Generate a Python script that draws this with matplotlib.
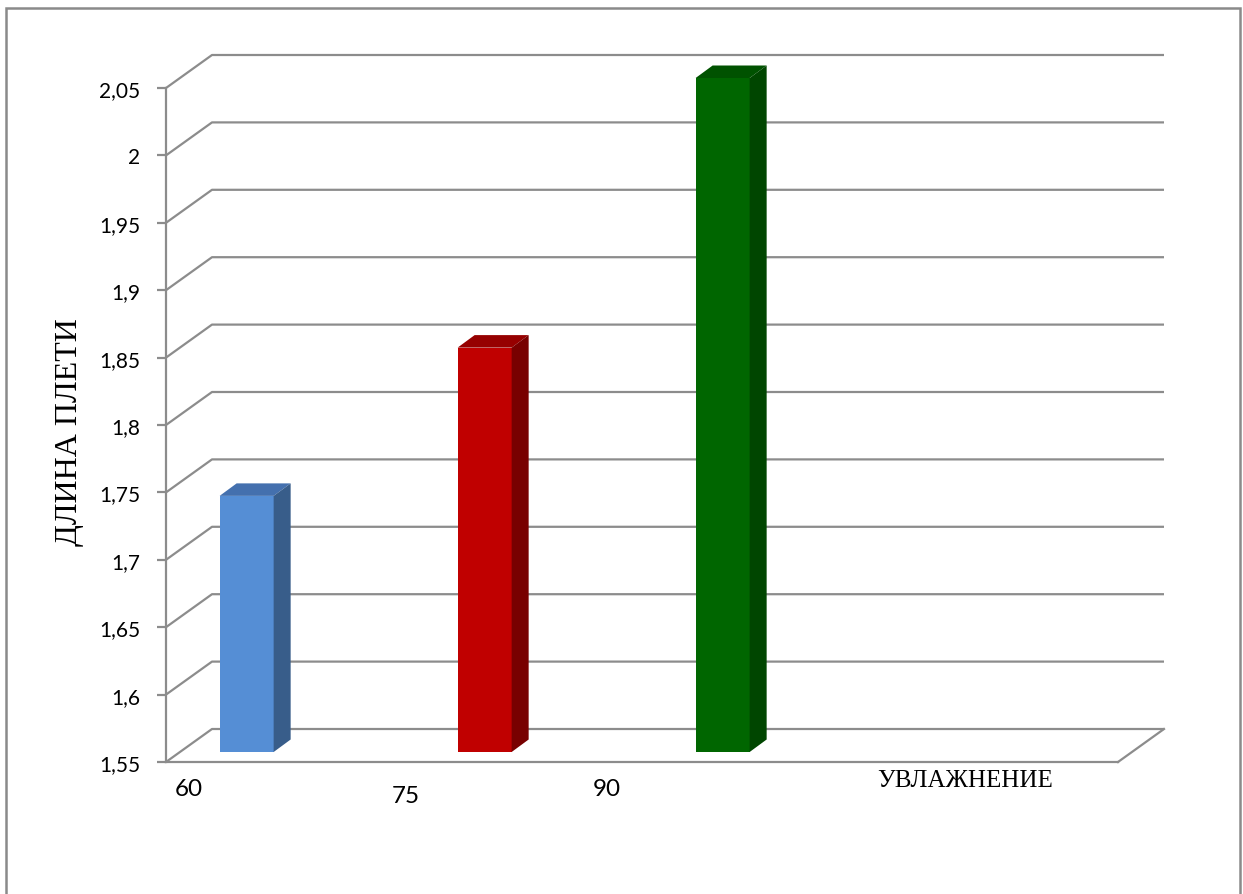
import numpy as np
import matplotlib.pyplot as plt
from matplotlib.patches import Polygon, Rectangle

# данные: длина плети при разном увлажнении
categories = ['60', '75', '90']
values = [1.74, 1.85, 2.05]
y_ticks = [1.55, 1.6, 1.65, 1.7, 1.75, 1.8, 1.85, 1.9, 1.95, 2.0, 2.05]
y_ticklabels = ['1,55', '1,6', '1,65', '1,7', '1,75', '1,8', '1,85', '1,9', '1,95', '2', '2,05']
x_title = 'УВЛАЖНЕНИЕ'
y_title = 'ДЛИНА ПЛЕТИ'

face_colors = ['#558ED5', '#C00000', '#006600']
top_colors = ['#4470AE', '#960000', '#005200']
side_colors = ['#385D8A', '#780000', '#004600']

W, H = 1243, 895
grid_c = '#8c8c8c'
lw = 1.6

# положение передней плоскости в пикселях
L, R, T, B = 166, 1118, 89, 763
ymin, ymax = 1.55, 2.05
n_slots = 4

fig = plt.figure(figsize=(W / 100, H / 100), dpi=100)
ax = fig.add_axes([L / W, (H - B) / H, (R - L) / W, (B - T) / H])
ax.set_xlim(0, n_slots)
ax.set_ylim(ymin, ymax)

sx = n_slots / (R - L)
sy = (ymax - ymin) / (B - T)


def off(dx, dy):
    return dx * sx, dy * sy


# глубина "стены" и столбцов
wdx, wdy = off(46, 33)
f1x, f1y = off(14, 10)
f2x, f2y = off(31, 22.5)

# сетка на задней стене + диагонали на боковой стене
for t in y_ticks:
    ax.plot([0, wdx, n_slots + wdx], [t, t + wdy, t + wdy],
            color=grid_c, lw=lw, clip_on=False, zorder=1, solid_capstyle='butt')
ax.plot([n_slots, n_slots + wdx], [ymin, ymin + wdy],
        color=grid_c, lw=lw, clip_on=False, zorder=1)

# столбцы
bw = 0.227
pos = np.arange(len(values)) + 0.28
for i, v in enumerate(values):
    x0 = pos[i] - bw / 2
    x1 = pos[i] + bw / 2
    ax.bar(pos[i] + f1x, v - ymin, bottom=ymin + f1y, width=bw,
           color=face_colors[i], clip_on=False, zorder=3, linewidth=0)
    top = Polygon([(x0 + f1x, v + f1y), (x1 + f1x, v + f1y),
                   (x1 + f2x, v + f2y), (x0 + f2x, v + f2y)],
                  closed=True, fc=top_colors[i], ec='none', clip_on=False, zorder=3)
    side = Polygon([(x1 + f1x, ymin + f1y), (x1 + f2x, ymin + f2y),
                    (x1 + f2x, v + f2y), (x1 + f1x, v + f1y)],
                   closed=True, fc=side_colors[i], ec='none', clip_on=False, zorder=3)
    ax.add_patch(top)
    ax.add_patch(side)

for s in ['top', 'right']:
    ax.spines[s].set_visible(False)
for s in ['left', 'bottom']:
    ax.spines[s].set_color(grid_c)
    ax.spines[s].set_linewidth(lw)
    ax.spines[s].set_zorder(2)

ax.set_yticks(y_ticks)
ax.set_yticklabels(y_ticklabels, fontfamily='Lato', fontsize=15)
ax.tick_params(axis='y', length=6.5, width=lw, color=grid_c, pad=12)
ax.set_xticks([])
ax.patch.set_alpha(0)

# подписи категорий
label_px = [(189, 790), (406, 797), (607, 790)]
for lab, (px, py) in zip(categories, label_px):
    fig.text(px / W, 1 - py / H, lab, ha='center', va='center',
             fontsize=17.5, fontfamily='Lato')

fig.text(965 / W, 1 - 781 / H, x_title, ha='center', va='center',
         fontsize=18, fontfamily='Liberation Serif')
fig.text(70 / W, 1 - 432 / H, y_title, ha='center', va='center', rotation=90,
         fontsize=23, fontfamily='Liberation Serif')

# рамка диаграммы
fig.patches.append(Rectangle((6 / W, -0.02), (1240 - 6) / W, 1 - 9 / H + 0.02,
                             transform=fig.transFigure, fill=False,
                             ec='#8a8a8a', lw=1.8))

fig.savefig('out.png', dpi=100)
